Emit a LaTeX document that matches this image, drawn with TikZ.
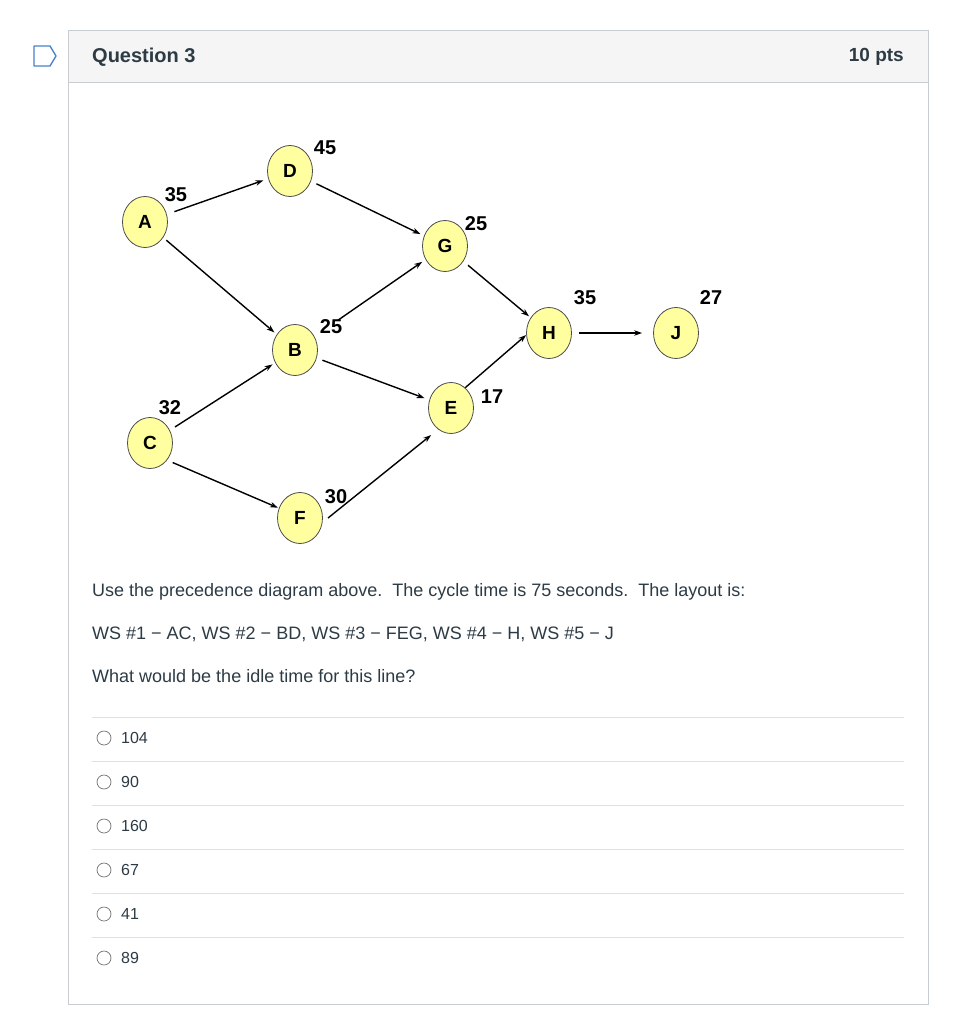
\documentclass[tikz,border=0pt]{standalone}
\usepackage{fontspec}
\setmainfont{Liberation Sans}
\usetikzlibrary{shapes.geometric,arrows.meta}
\definecolor{nodefill}{RGB}{255,255,160}
\definecolor{cardline}{RGB}{199,205,209}
\definecolor{headfill}{RGB}{245,245,245}
\definecolor{txt}{RGB}{45,59,69}
\definecolor{sepline}{RGB}{224,224,224}
\definecolor{tagblue}{RGB}{70,130,200}
\begin{document}
\begin{tikzpicture}[x=1pt,y=-1pt,
  tnode/.style={ellipse,draw=black!70,line width=0.8pt,fill=nodefill,minimum width=45pt,minimum height=51pt,inner sep=0pt,font=\fontsize{19}{19}\selectfont\bfseries},
  tlabel/.style={font=\fontsize{20}{20}\selectfont\bfseries,inner sep=0pt},
  edge/.style={line width=1.4pt,-{Stealth[length=8pt,width=5.5pt]}},
  bodytext/.style={anchor=west,inner sep=0pt,text=txt,font=\fontsize{18}{18}\selectfont},
  opttext/.style={anchor=west,inner sep=0pt,text=txt,font=\fontsize{16}{16}\selectfont},
  radio/.style={draw=black!55,line width=0.7pt,circle,minimum size=14pt,inner sep=0pt}]
\useasboundingbox (0,0) rectangle (958,1024);
\fill[white] (0,0) rectangle (958,1024);
% card
\fill[headfill] (68,31) rectangle (928,83);
\draw[cardline,line width=1pt] (68,31) rectangle (928,1004);
\draw[cardline,line width=1pt] (68,83) -- (928,83);
% tag icon
\draw[tagblue,line width=1.3pt,line join=round] (34,46) -- (50,46) -- (56,56) -- (50,66) -- (34,66) -- cycle;
\node[anchor=west,inner sep=0pt,text=txt,font=\fontsize{20}{20}\selectfont\bfseries] (qtitle) at (92,57) {Question 3};
\node[anchor=east,inner sep=0pt,text=txt,font=\fontsize{19}{19}\selectfont\bfseries] (pts) at (904,57) {10 pts};
% nodes
\node[tnode] (A) at (145,222) {A};
\node[tnode] (D) at (290,171) {D};
\node[tnode] (G) at (445,246) {G};
\node[tnode] (B) at (295,350) {B};
\node[tnode] (H) at (549,333) {H};
\node[tnode] (J) at (676,333) {J};
\node[tnode] (E) at (451,408) {E};
\node[tnode] (C) at (150,443) {C};
\node[tnode] (F) at (300,518) {F};
% labels
\node[tlabel] (lA) at (176,195) {35};
\node[tlabel] (lD) at (325,148) {45};
\node[tlabel] (lG) at (476,224) {25};
\node[tlabel] (lB) at (331,327) {25};
\node[tlabel] (lH) at (585,298) {35};
\node[tlabel] (lJ) at (711,298) {27};
\node[tlabel] (lE) at (492,397) {17};
\node[tlabel] (lC) at (170,408) {32};
\node[tlabel] (lF) at (336,497) {30};
% edges
\draw[edge,shorten <=8pt,shorten >=5pt] (A) -- (D);
\draw[edge,shorten <=6pt,shorten >=4pt] (D) -- (G);
\draw[edge,shorten <=4pt,shorten >=3pt] (A) -- (B);
\draw[edge,shorten <=6pt,shorten >=2pt] (G) -- (H);
\draw[edge,shorten <=28pt,shorten >=4pt] (B) -- (G);
\draw[edge,shorten <=6pt,shorten >=5pt] (B) -- (E);
\draw[edge,shorten <=6pt,shorten >=3pt] (C) -- (B);
\draw[edge,shorten <=6pt,shorten >=1pt] (C.-45) -- (F.155);
\draw[edge,shorten <=7pt,shorten >=9pt] (F.-11) -- (E.239);
\draw[edge,shorten <=0pt,shorten >=0pt] (E.55) -- (H.185);
\draw[edge,shorten <=7pt,shorten >=11pt] (H) -- (J);
% question text
\node[bodytext] (t1) at (92,592) {Use the precedence diagram above.\ \ The cycle time is 75 seconds.\ \ The layout is:};
\node[bodytext] (t2) at (92,634) {WS \#1 − AC, WS \#2 − BD, WS \#3 − FEG, WS \#4 − H, WS \#5 − J};
\node[bodytext] (t3) at (92,676) {What would be the idle time for this line?};
% options
\foreach \yy in {717,761,805,849,893,937} \draw[sepline,line width=1pt] (92,\yy) -- (904,\yy);
\foreach \yy/\lab/\nm in {738/104/o1,782/90/o2,826/160/o3,870/67/o4,914/41/o5,958/89/o6}{
  \node[radio] (r\nm) at (104,\yy) {};
  \node[opttext] (\nm) at (121,\yy) {\lab};
}
\end{tikzpicture}
\end{document}
